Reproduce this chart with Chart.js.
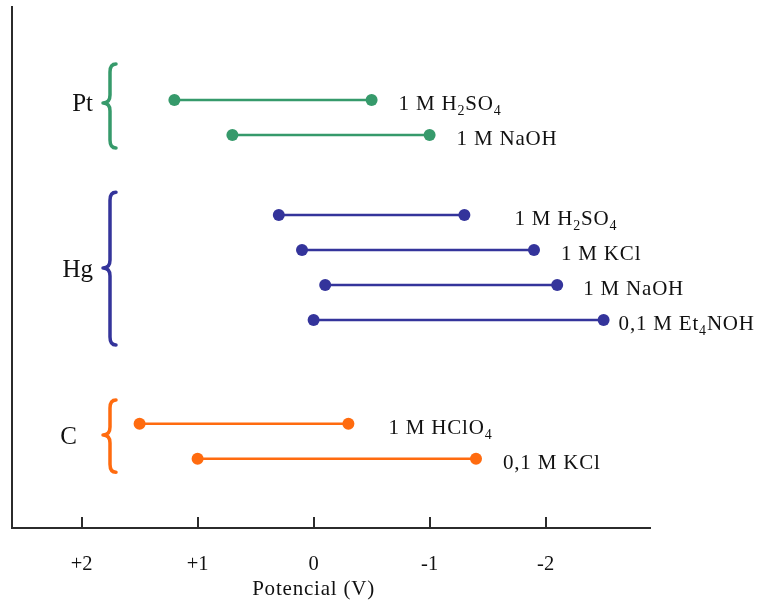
<!DOCTYPE html>
<html><head><meta charset="utf-8">
<script src="https://cdn.jsdelivr.net/npm/chart.js@4"></script>
<style>html,body{margin:0;padding:0;background:#fff}#wrap{width:764px;height:603px}</style>
</head><body><div id="wrap"><canvas id="c" width="764" height="603"></canvas></div>
<script>
// ---- data ----
const electrodes   = ['Pt','Pt','Hg','Hg','Hg','Hg','C','C'];
const electrolytes = ['1 M H₂SO₄','1 M NaOH','1 M H₂SO₄','1 M KCl','1 M NaOH','0,1 M Et₄NOH','1 M HClO₄','0,1 M KCl'];
const positiveLimit = [1.2, 0.7, 0.3, 0.1, -0.1, 0.0, 1.5, 1.0];
const negativeLimit = [-0.5, -1.0, -1.3, -1.9, -2.1, -2.5, -0.3, -1.4];
const rowPosition  = [2.66, 3.66, 5.94, 6.94, 7.94, 8.94, 11.91, 12.91];
const groupNames   = ['Pt','Hg','C'];
const tickValues   = [2, 1, 0, -1, -2];
const tickLabels   = ['+2','+1','0','-1','-2'];
const axisTitle    = 'Potencial (V)';

// ---- styles / layout ----
const FONT = '"Liberation Serif", "DejaVu Serif", serif';
const FS = 21;            // label font size
const GFS = 25;           // group label font size
const LS = '0.8px';       // letter spacing for labels
const labelGap = [27, 27, 50, 27, 26, 15, 40, 27];   // px gap after the line end
const groupColor = {Pt:'#369a6b', Hg:'#34349b', C:'#ff6b0f'};
const braceSpan = {Pt:[1.63, 2.74, 4.03], Hg:[5.29, 7.46, 9.66], C:[11.23, 12.23, 13.29]};
const braceLabelGap = {Pt:10, Hg:10, C:26};

const datasets = electrolytes.map((name, i) => ({
  label: electrodes[i] + ' ' + name,
  data: [{x: positiveLimit[i], y: rowPosition[i]}, {x: negativeLimit[i], y: rowPosition[i]}],
  showLine: true,
  borderColor: groupColor[electrodes[i]],
  backgroundColor: groupColor[electrodes[i]],
  borderWidth: 2.5,
  pointRadius: 6,
  pointBorderWidth: 0,
  pointHoverRadius: 6
}));

const subMap = {'₀':'0','₁':'1','₂':'2','₃':'3','₄':'4','₅':'5','₆':'6','₇':'7','₈':'8','₉':'9'};
function drawRich(ctx, text, x, y, size, align, spacing) {
  const runs = [];
  for (const ch of text) {
    const sub = ch in subMap;
    const c = sub ? subMap[ch] : ch;
    if (runs.length && runs[runs.length-1].sub === sub) runs[runs.length-1].t += c;
    else runs.push({t:c, sub});
  }
  ctx.letterSpacing = spacing || '0px';
  let w = 0;
  runs.forEach(r => { ctx.font = (r.sub ? Math.round(size*0.66) : size) + 'px ' + FONT; r.w = ctx.measureText(r.t).width; w += r.w; });
  let cx = align === 'right' ? x - w : align === 'center' ? x - w/2 : x;
  ctx.textAlign = 'left'; ctx.textBaseline = 'alphabetic';
  runs.forEach(r => {
    ctx.font = (r.sub ? Math.round(size*0.66) : size) + 'px ' + FONT;
    ctx.fillText(r.t, cx, r.sub ? y + size*0.24 : y);
    cx += r.w;
  });
  ctx.letterSpacing = '0px';
}

function drawBrace(ctx, xs, tipX, endX, top, mid, bot) {
  const r = 8;
  ctx.beginPath();
  ctx.moveTo(endX, top);
  ctx.quadraticCurveTo(xs, top, xs, top + r);
  ctx.lineTo(xs, mid - r);
  ctx.quadraticCurveTo(xs, mid, tipX, mid);
  ctx.quadraticCurveTo(xs, mid, xs, mid + r);
  ctx.lineTo(xs, bot - r);
  ctx.quadraticCurveTo(xs, bot, endX, bot);
  ctx.stroke();
}

const decor = {
  id: 'decor',
  afterDatasetsDraw(chart) {
    const ctx = chart.ctx, xs = chart.scales.x, ys = chart.scales.y, ca = chart.chartArea;
    ctx.save();
    // inward tick marks
    ctx.strokeStyle = '#2b2b2b'; ctx.lineWidth = 2;
    tickValues.forEach(v => {
      const px = Math.round(xs.getPixelForValue(v));
      ctx.beginPath(); ctx.moveTo(px, ca.bottom); ctx.lineTo(px, ca.bottom - 11); ctx.stroke();
    });
    // axis title centred under 0
    ctx.fillStyle = '#111';
    drawRich(ctx, axisTitle, xs.getPixelForValue(0), ca.bottom + 67, FS, 'center', LS);
    // electrolyte labels
    electrolytes.forEach((name, i) => {
      const px = xs.getPixelForValue(negativeLimit[i]) + labelGap[i];
      const py = ys.getPixelForValue(rowPosition[i]) + 10;
      ctx.fillStyle = '#111';
      drawRich(ctx, name, px, py, FS, 'left', LS);
    });
    // braces and group labels
    groupNames.forEach(g => {
      const [t, m, b] = braceSpan[g];
      ctx.strokeStyle = groupColor[g]; ctx.lineWidth = 3.5; ctx.lineCap = 'round'; ctx.lineJoin = 'round';
      drawBrace(ctx, ca.left + 98, ca.left + 91, ca.left + 104, ys.getPixelForValue(t), ys.getPixelForValue(m), ys.getPixelForValue(b));
      ctx.fillStyle = '#111';
      drawRich(ctx, g, ca.left + 91 - braceLabelGap[g], ys.getPixelForValue(m) + 8.5, GFS, 'right');
    });
    ctx.restore();
  }
};

new Chart(document.getElementById('c'), {
  type: 'scatter',
  data: { datasets },
  options: {
    responsive: false,
    animation: false,
    events: [],
    layout: { padding: { left: 12, top: 7, right: 114, bottom: 0 } },
    plugins: { legend: { display: false }, tooltip: { enabled: false } },
    scales: {
      x: {
        type: 'linear', reverse: true, min: -2.9, max: 2.6,
        grid: { display: false, drawTicks: false },
        border: { display: true, color: '#2b2b2b', width: 2 },
        afterBuildTicks: s => { s.ticks = tickValues.map(v => ({ value: v })); },
        afterFit: s => { s.height = 75; },
        ticks: {
          color: '#111', padding: 24, maxRotation: 0, autoSkip: false,
          font: { family: FONT, size: 20.5 },
          callback: v => tickLabels[tickValues.indexOf(v)]
        }
      },
      y: {
        type: 'linear', reverse: true, min: 0, max: 14.886,
        grid: { display: false, drawTicks: false },
        border: { display: true, color: '#2b2b2b', width: 2 },
        ticks: { display: false },
        afterFit: s => { s.width = 0; }
      }
    }
  },
  plugins: [decor]
});
</script>
</body></html>
